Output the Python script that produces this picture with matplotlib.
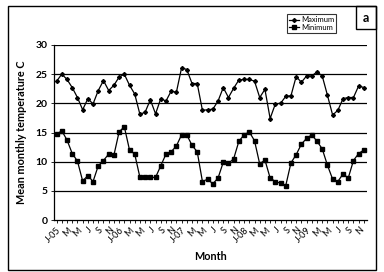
import numpy as np
import matplotlib.pyplot as plt
from matplotlib.patches import Rectangle

plt.rcParams['font.family'] = ['Lato', 'DejaVu Sans']

# Monthly means, Jan 2005 - Dec 2009
maximum = [23.8, 25.0, 24.1, 22.7, 21.0, 18.9, 20.8, 19.9, 22.2, 23.9, 22.2, 23.1,
           24.5, 25.0, 23.1, 21.6, 18.1, 18.5, 20.6, 18.2, 20.8, 20.4, 22.1, 21.9,
           26.1, 25.8, 23.4, 23.4, 18.8, 18.9, 19.0, 20.4, 22.7, 21.0, 22.6, 24.0,
           24.1, 24.1, 23.8, 21.0, 22.4, 17.4, 19.9, 20.0, 21.2, 21.3, 24.6, 23.6,
           24.7, 24.7, 25.4, 24.7, 21.4, 18.0, 18.8, 20.8, 21.0, 21.0, 23.0, 22.7]
minimum = [14.7, 15.3, 13.7, 11.4, 10.1, 6.7, 7.6, 6.6, 9.3, 10.2, 11.3, 11.1,
           15.1, 16.0, 12.0, 11.3, 7.3, 7.3, 7.3, 7.3, 9.3, 11.3, 11.7, 12.7,
           14.6, 14.6, 12.8, 11.7, 6.6, 7.0, 6.2, 7.2, 9.9, 9.7, 10.5, 13.5,
           14.6, 15.1, 13.6, 9.6, 10.3, 7.2, 6.6, 6.3, 5.9, 9.8, 11.2, 13.0,
           14.0, 14.6, 13.5, 12.2, 9.4, 7.0, 6.6, 7.9, 7.2, 10.2, 11.4, 12.0]
month_letters = ['J', 'F', 'M', 'A', 'M', 'J', 'J', 'A', 'S', 'O', 'N', 'D']
years = ['05', '06', '07', '08', '09']

labels = []
for y in years:
    for i, m in enumerate(month_letters):
        if i == 0:
            labels.append('J-' + y)
        elif i % 2 == 0:
            labels.append(m)
        else:
            labels.append('')

x = np.arange(len(maximum))

fig = plt.figure(figsize=(3.84, 2.72), dpi=100)
ax = fig.add_axes([54/384, 1 - 220/272, (367-54)/384, (220-45)/272])

ax.plot(x, maximum, color='black', lw=0.9, marker='D', ms=2.0, label='Maximum')
ax.plot(x, minimum, color='black', lw=0.9, marker='s', ms=2.8, label='Minimum')

ax.set_xlim(-0.5, 59.6)
ax.set_ylim(0, 30)
ax.set_yticks(range(0, 31, 5))
for v in range(5, 31, 5):
    ax.axhline(v, color='black', lw=0.9, zorder=0)

ax.set_xticks(x)
ax.set_xticklabels(labels, rotation=45, ha='right', rotation_mode='anchor', fontsize=6.5)
ax.tick_params(axis='x', length=2.5, width=0.6, pad=1.5)
ax.tick_params(axis='y', length=2.5, width=0.6, labelsize=7.5, pad=2)
for lab in ax.get_yticklabels():
    lab.set_fontweight('bold')

ax.spines['top'].set_visible(False)
ax.spines['right'].set_visible(False)
ax.spines['left'].set_linewidth(0.9)
ax.spines['bottom'].set_linewidth(0.9)

ax.set_ylabel('Mean monthly temperature C', fontsize=7.8, fontweight='bold', labelpad=6)
ax.set_xlabel('Month', fontsize=7.8, fontweight='bold', labelpad=5)

leg = fig.legend(loc='upper left', bbox_to_anchor=(287/384, 1 - 14/272), fontsize=5.5,
                 frameon=True, fancybox=False, edgecolor='black', handlelength=1.3,
                 handletextpad=0.2, borderpad=0.3, labelspacing=0.1, borderaxespad=0)
leg.get_frame().set_linewidth(0.8)

# outer frame and panel letter
fig.patches.append(Rectangle((8/384, 2/272), (376-8)/384, (270-6)/272, transform=fig.transFigure,
                             fill=False, edgecolor='black', lw=1.0))
fig.patches.append(Rectangle((356/384, 1 - 29/272), 20/384, 23/272, transform=fig.transFigure,
                             fill=False, edgecolor='black', lw=1.0))
fig.text(366/384, 1 - 17.5/272, 'a', fontsize=9, fontweight='bold', ha='center', va='center')

fig.savefig('out.png', dpi=100)
